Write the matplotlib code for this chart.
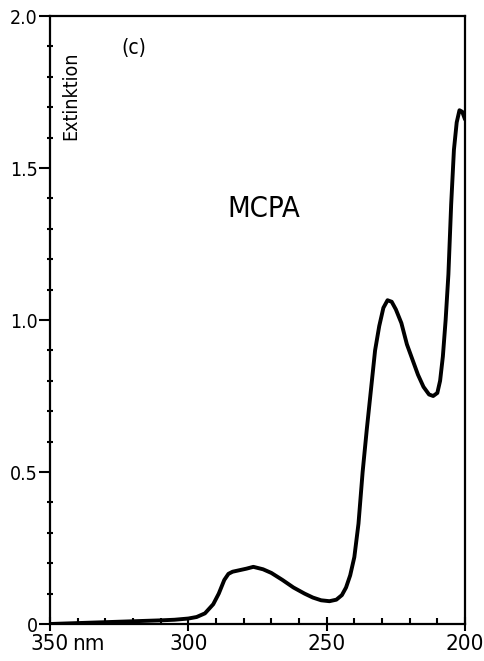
import matplotlib
matplotlib.use("Agg")
import matplotlib.pyplot as plt
from matplotlib.ticker import MultipleLocator, FixedLocator
from matplotlib import font_manager

wavelength_nm = [350, 340, 330, 320, 310, 305, 300, 297, 294, 291, 289, 287, 285.5,
                 284, 282, 279, 276.5, 273, 270, 266, 262, 258, 255, 252, 249, 246.5,
                 244.5, 243, 241.5, 240, 238.5, 237, 235.5, 234, 232.5, 231, 229.5,
                 228, 226.5, 225, 223, 221, 219, 217, 215, 213, 211.5, 210, 209, 208,
                 207, 206, 205, 204, 203, 202, 201, 200]
extinction = [0.0, 0.003, 0.006, 0.009, 0.012, 0.014, 0.018, 0.023, 0.035, 0.065, 0.10,
              0.145, 0.165, 0.172, 0.176, 0.182, 0.188, 0.18, 0.168, 0.145, 0.12, 0.10,
              0.087, 0.078, 0.075, 0.08, 0.095, 0.12, 0.16, 0.22, 0.33, 0.50, 0.64,
              0.77, 0.90, 0.98, 1.04, 1.065, 1.06, 1.035, 0.99, 0.92, 0.87, 0.82, 0.78,
              0.755, 0.75, 0.76, 0.80, 0.88, 1.0, 1.15, 1.38, 1.56, 1.65, 1.69, 1.685, 1.66]

x_major = [350, 300, 250, 200]
x_labels = ["350", "300", "250", "200"]
y_major = [0, 0.5, 1.0, 1.5, 2.0]
y_labels = ["0", "0.5", "1.0", "1.5", "2.0"]

names = {f.name for f in font_manager.fontManager.ttflist}
cond = "DejaVu Sans"
stretch = "condensed"
if "Liberation Sans Narrow" in names:
    cond = "Liberation Sans Narrow"
    stretch = "normal"
plt.rcParams['font.family'] = [cond, "DejaVu Sans"]
plt.rcParams['font.stretch'] = stretch

fig = plt.figure(figsize=(4.84, 6.61), dpi=100)
ax = fig.add_axes([50/484, 1 - 624/661, 415/484, (624 - 16)/661])

ax.plot(wavelength_nm, extinction, color="black", lw=2.8, solid_capstyle="round",
        solid_joinstyle="round")

ax.set_xlim(350, 200)
ax.set_ylim(0, 2.0)

for s in ax.spines.values():
    s.set_linewidth(1.6)

ax.xaxis.set_major_locator(FixedLocator(x_major))
ax.set_xticklabels(x_labels, fontsize=16, fontweight="medium")
ax.xaxis.set_minor_locator(MultipleLocator(10))
ax.yaxis.set_major_locator(FixedLocator(y_major))
ax.set_yticklabels(y_labels, fontsize=14, fontweight="medium")
ax.yaxis.set_minor_locator(MultipleLocator(0.1))

ax.tick_params(axis="x", which="major", direction="inout", length=10, width=1.5, pad=2)
ax.tick_params(axis="x", which="minor", direction="in", length=4, width=1.5)
ax.tick_params(axis="y", which="major", direction="out", length=8, width=1.5, pad=1)
ax.tick_params(axis="y", which="minor", direction="inout", length=4, width=1.5)

ax.annotate("nm", xy=(342.0, 0), xycoords=("data", "axes fraction"),
            xytext=(0, -7), textcoords="offset points", fontsize=16,
            ha="left", va="top")

ax.text(0.05, 0.941, "Extinktion", transform=ax.transAxes, rotation=90,
        fontsize=14, ha="center", va="top")
ax.text(0.203, 0.947, "(c)", transform=ax.transAxes, fontsize=15, ha="center",
        va="center")
ax.text(0.516, 0.683, "MCPA", transform=ax.transAxes, fontsize=21, ha="center",
        va="center")

fig.savefig("out.png", dpi=100)
